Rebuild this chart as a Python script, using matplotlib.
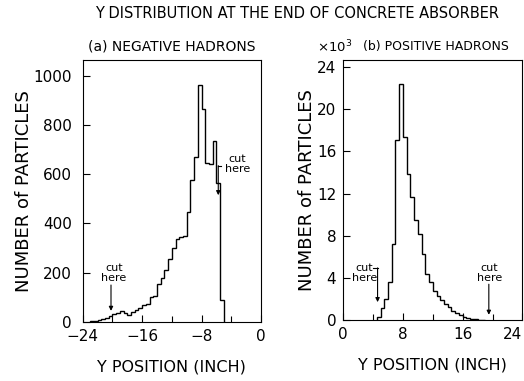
import numpy as np
import matplotlib
matplotlib.use("Agg")
import matplotlib.pyplot as plt

# (a) negative hadrons: counts per 0.5 inch bin, starting at -23 inch
neg_start = -23.0
neg_width = 0.5
neg_counts = [2, 5, 8, 12, 18, 25, 32, 36, 46, 38, 30, 40, 48, 58,
              68, 72, 100, 105, 155, 180, 210, 255, 300, 335, 345, 350,
              445, 578, 672, 962, 865, 645, 643, 735, 565, 88]

# (b) positive hadrons: counts (x10^3) per 0.5 inch bin, starting at 4.5 inch
pos_start = 4.5
pos_width = 0.5
pos_counts = [0.3, 1.1, 2.0, 3.6, 7.2, 17.1, 22.4, 17.4, 13.9, 11.7, 9.5,
              8.2, 6.3, 4.4, 3.6, 2.8, 2.3, 1.9, 1.5, 1.2, 0.9, 0.65, 0.45,
              0.3, 0.2, 0.12, 0.07, 0.04, 0.02]

neg_xticks = [-24, -16, -8, 0]
pos_xticks = [0, 8, 16, 24]
neg_yticks = [0, 200, 400, 600, 800, 1000]
pos_yticks = [0, 4, 8, 12, 16, 20, 24]

plt.rcParams['font.family'] = ['DejaVu Sans']


def edges(start, width, n):
    return start + width * np.arange(n + 1)


def style_axes(ax):
    for s in ax.spines.values():
        s.set_linewidth(0.8)
    ax.tick_params(which='both', direction='in', top=False, right=False,
                   labelsize=11, width=0.8)
    ax.tick_params(which='major', length=5)
    ax.tick_params(which='minor', length=4)


def cut_mark(ax, x, y, **kw):
    ax.text(x, y, 'cut\nhere', ha='center', va='center', fontsize=8,
            linespacing=1.0, multialignment='center', **kw)


def arrow(ax, x0, y0, x1, y1):
    ax.annotate('', xy=(x1, y1), xytext=(x0, y0),
                arrowprops=dict(arrowstyle='-|>', color='black', lw=0.8,
                                mutation_scale=6, shrinkA=0, shrinkB=0))


fig = plt.figure(figsize=(5.24, 3.81), dpi=100)
ax1 = fig.add_axes([0.158, 0.155, 0.340, 0.688])
ax2 = fig.add_axes([0.655, 0.160, 0.342, 0.682])

# negative hadrons
ax1.stairs(neg_counts, edges(neg_start, neg_width, len(neg_counts)),
           baseline=0, color='black', lw=1.0)
ax1.set_xlim(-24, 0)
ax1.set_ylim(0, 1065)
ax1.set_xticks(neg_xticks)
ax1.set_xticks(np.arange(-24, 1, 4), minor=True)
ax1.set_yticks(neg_yticks)
style_axes(ax1)
ax1.tick_params(axis='y', pad=8)
ax1.tick_params(axis='x', pad=5)
ax1.set_ylabel('NUMBER of PARTICLES', fontsize=13, labelpad=0)
ax1.set_xlabel('Y POSITION (INCH)', fontsize=11.5, labelpad=11)
ax1.set_title('(a) NEGATIVE HADRONS', fontsize=10, pad=7)

# cut marks (a)
cut_mark(ax1, -19.8, 200)
arrow(ax1, -20.2, 150, -20.2, 45)
cut_mark(ax1, -3.2, 640)
ax1.plot([-5.35, -5.75], [635, 635], color='black', lw=0.8)
arrow(ax1, -5.75, 635, -5.75, 515)

# positive hadrons
ax2.stairs(pos_counts, edges(pos_start, pos_width, len(pos_counts)),
           baseline=0, color='black', lw=1.0)
ax2.set_xlim(0, 24)
ax2.set_ylim(0, 24.66)
ax2.set_xticks(pos_xticks)
ax2.set_xticks(np.arange(0, 25, 4), minor=True)
ax2.set_yticks(pos_yticks)
style_axes(ax2)
ax2.tick_params(axis='y', pad=5)
ax2.tick_params(axis='x', pad=5)
ax2.get_xticklabels()[-1].set_horizontalalignment('right')
ax2.set_ylabel('NUMBER of PARTICLES', fontsize=13, labelpad=1)
ax2.set_xlabel('Y POSITION (INCH)', fontsize=11.5, labelpad=11)
ax2.set_title('(b) POSITIVE HADRONS', fontsize=9, pad=7, x=0.52)
ax2.text(-0.05, 1.052, r'$\times$10$^3$', transform=ax2.transAxes,
         ha='center', va='center', fontsize=9.5)

# cut marks (b)
cut_mark(ax2, 2.85, 4.5)
ax2.plot([4.0, 4.6], [4.95, 4.95], color='black', lw=0.8)
arrow(ax2, 4.6, 4.95, 4.6, 1.7)
cut_mark(ax2, 19.6, 4.5)
arrow(ax2, 19.5, 3.4, 19.5, 0.5)

fig.text(0.567, 0.965, 'Y DISTRIBUTION AT THE END OF CONCRETE ABSORBER',
         ha='center', va='center', fontsize=10.5)

fig.savefig('out.png', dpi=100)
